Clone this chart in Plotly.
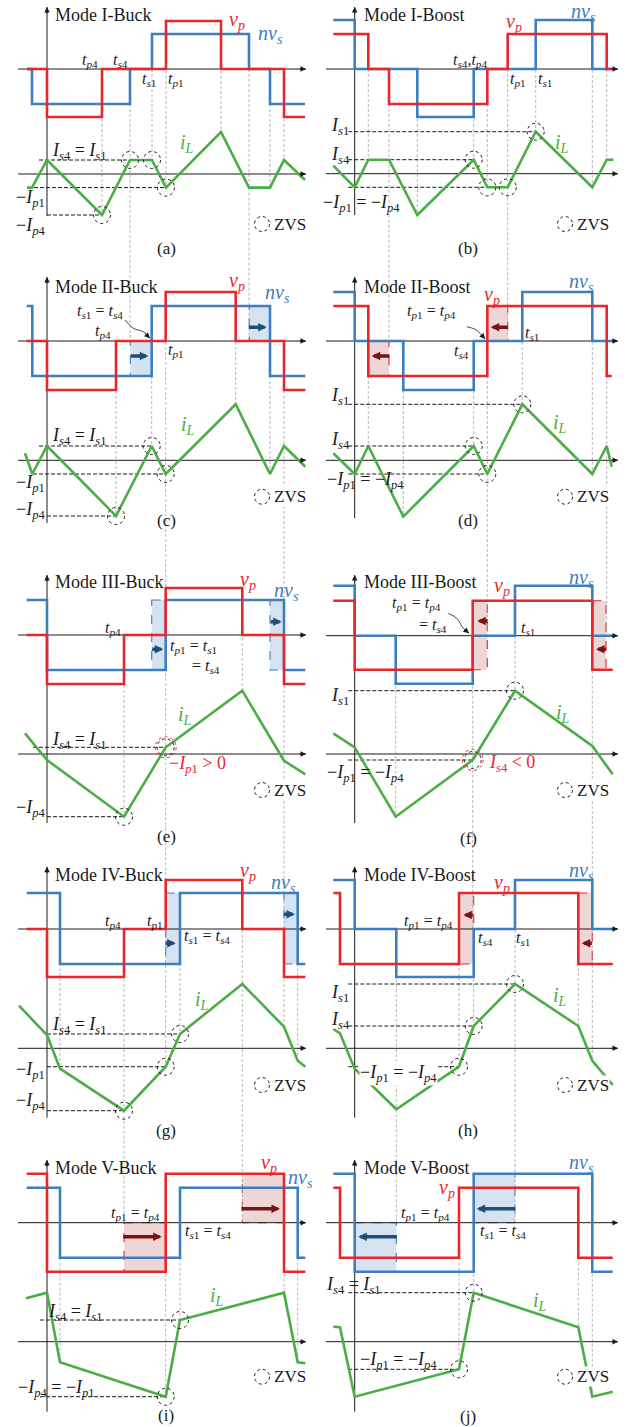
import plotly.graph_objects as go

W, H = 631, 1427
RED = "#E8262B"
BLUE = "#3C7EC0"
GREEN = "#4BAE45"
DKBLUE = "#1F4E79"
DKRED = "#7A1414"
GUIDE = "#A3A3A3"
INK = "#1A1A1A"
FONT = "Liberation Serif"
TS = 16   # switching-instant labels
CS = 18   # current-level labels
MS = 18   # mode titles
BS = 20   # waveform names
SS = 17   # sub-figure tags

# ---------------- waveform data (time / level in panel units) ----------------
# Mode I-Buck
A_VP_T = [-20, 0, 55, 119, 174, 237, 258]
A_VP = [0, -48, 0, 48, 0, -48]
A_NVS_T = [-20, -15, 83, 105, 202, 223, 258]
A_NVS = [0, -35, 0, 35, 0, -35]
A_IL_T = [-20, -15, 0, 55, 83, 105, 119, 174, 202, 223, 237, 258]
A_IL = [-13.6, -13.6, 14, -41, 14, 14, -13.6, 42, -13.6, -13.6, 14, -6]
A_ZVS = [55, 83, 105, 119]
A_REFS = [(-8, 83, 14), (-19, 119, -13.6), (0, 55, -41)]

# Mode I-Boost
B_VP_T = [-21.4, 13.6, 34.3, 132.6, 153, 252, 257]
B_VP = [35, 0, -35, 0, 35, 0]
B_NVS_T = [-21.4, 0, 62.6, 119, 181, 237.6, 258.6]
B_NVS = [49, 0, -48, 0, 49, 0]
B_IL_T = [-21.4, 0, 13.6, 34.3, 62.6, 119, 132.6, 153, 181, 237.6, 252, 258.6]
B_IL = [8, -13.6, 14, 14, -41.3, 14, -13.6, -13.6, 42, -13.6, 14, 14]
B_ZVS = [119, 132.6, 153, 181]
B_REFS = [(-6.4, 181, 42), (-6.4, 119, 14), (-6.4, 153, -13.6)]

# Mode II-Buck
C_VP_T = [-20.3, 0, 69, 118.7, 188.7, 237, 258.3]
C_VP = [0, -49, 0, 49, 0, -49]
C_NVS_T = [-20.3, -14.7, 104.7, 223, 258.3]
C_NVS = [35, -35, 35, -35]
C_IL_T = [-22, -14.7, 0, 69, 104.7, 118.7, 188.7, 223, 237, 258.3]
C_IL = [7, -13.7, 14.3, -55.7, 14.3, -13.7, 56, -13.7, 14.3, -6.4]
C_ZVS = [69, 104.7, 118.7]
C_REFS = [(-8, 104.7, 14.3), (-14, 118.7, -13.7), (0, 69, -55.7)]
C_SHADE = [(83.3, 104.7, -35, 0), (202.3, 223, 0, 35)]
C_SHIFT = [(82.3, 101.3, -15), (200.3, 219.7, 13.7)]

# Mode II-Boost
D_VP_T = [-21.4, 13.6, 132.6, 252, 257]
D_VP = [35, -35, 35, -35]
D_NVS_T = [-21.4, 0, 48.6, 119, 167.6, 237.6, 258.6]
D_NVS = [49, 0, -49, 0, 49, 0]
D_IL_T = [-21.4, 0, 13.6, 48.6, 119, 132.6, 167.6, 237.6, 252, 257]
D_IL = [7, -13.7, 14.3, -56.3, 14.3, -13.7, 56, -13.7, 14.3, -6.4]
D_ZVS = [119, 132.6, 167.6]
D_REFS = [(-6.4, 167.6, 56), (-6.4, 119, 14.3), (-6.4, 132.6, -13.7)]
D_SHADE = [(13.6, 34.3, -35, 0), (132.6, 153, 0, 35)]
D_SHIFT = [(36.3, 17, -15), (154.6, 136, 13.7)]

# Mode III-Buck
E_VP_T = [-20.3, 0, 77, 118.7, 195.3, 237, 258.3]
E_VP = [0, -49, 0, 47, 0, -49]
E_NVS_T = [-20.3, 0, 118.7, 237, 258.3]
E_NVS = [35, -35, 35, -35]
E_IL_T = [-22, 0, 77, 118.7, 195.3, 237, 258.3]
E_IL = [20.7, -6, -62.7, 6.7, 63.3, -6.7, -20.3]
E_ZVS = [77, 118.7]
E_RED = [118.7]
E_REFS = [(-14, 118.7, 6.7), (0, 77, -62.7)]
E_SHADE = [(104.7, 118.7, -35, 35), (223, 237, -35, 35)]
E_SHIFT = [(103.7, 116.3, -14.3), (222.3, 234.7, 13.3)]

# Mode III-Boost
F_VP_T = [-21.4, 0, 118, 237.6, 258]
F_VP = [35, -34, 35, -34]
F_NVS_T = [-21.4, 0, 41, 118, 160.3, 237.6, 258]
F_NVS = [50, 0, -48, 0, 50, 0]
F_IL_T = [-21.4, 0, 41, 118, 160.3, 237.6, 258]
F_IL = [20.7, 6.7, -62.7, -6, 63.3, 8, -20.3]
F_ZVS = [118, 160.3]
F_RED = [118]
F_REFS = [(-6.4, 160.3, 63.3), (-6.4, 118, -6)]
F_SHADE = [(118, 132.6, -34, 35), (237.6, 251.3, -34, 35)]
F_SHIFT = [(134.3, 122.6, 14.7), (253, 241.3, -13.6)]

# Mode IV-Buck
G_VP_T = [-20.3, 0, 77, 118.7, 195.3, 237, 258.3]
G_VP = [0, -48, 0, 49, 0, -48]
G_NVS_T = [-20.3, 13, 133, 250.7, 258.3]
G_NVS = [36, -35, 36, -35]
G_IL_T = [-28, 0, 13, 77, 118.7, 133, 195.3, 237, 250.7, 258.3]
G_IL = [42.6, 13.3, -20.4, -62.4, -18.4, 14.3, 64.3, 21.6, -12.4, -18.4]
G_ZVS = [77, 118.7, 133]
G_REFS = [(0, 133, 14.3), (0, 118.7, -18.4), (0, 77, -62.4)]
G_SHADE = [(118.7, 133, -35, 36), (237, 250.7, -35, 36)]
G_SHIFT = [(117, 128.7, -14.3), (235.3, 248, 14.7)]

# Mode IV-Boost
H_VP_T = [-21.4, -14.7, 104.3, 223.6, 258]
H_VP = [36, -35, 36, -35]
H_NVS_T = [-21.4, 0, 41.6, 119, 160.3, 237.6, 258]
H_NVS = [49, 0, -48, 0, 49, 0]
H_IL_T = [-21.4, -14.7, 0, 41.6, 104.3, 119, 160.3, 223.6, 237.6, 258]
H_IL = [19.3, 15, -20.4, -61, -18.4, 22.3, 64.3, 22.3, -12.4, -36.7]
H_ZVS = [104.3, 119, 160.3]
H_REFS = [(-6.4, 160.3, 64.3), (-6.4, 119, 22.3), (-6.4, 104.3, -18.4)]
H_SHADE = [(104.3, 119, -35, 36), (223.6, 237.6, -35, 36)]
H_SHIFT = [(119.6, 108.6, 14), (238.6, 227, -14.3)]

# Mode V-Buck
I_VP_T = [-20.3, 0, 118.7, 237, 258.3]
I_VP = [49, -49, 49, -49]
I_NVS_T = [-20.3, 13, 133, 250.7, 258.3]
I_NVS = [35, -35, 35, -35]
I_IL_T = [-21, 0, 13, 118.7, 133, 237, 250.7, 258.3]
I_IL = [43.4, 49, -20.6, -55, 21.7, 49, -20.6, -21.6]
I_ZVS = [118.7, 133]
I_REFS = [(-7, 133, 21.7), (-7, 118.7, -55)]
I_SHADE = [(77, 118.7, -49, 0), (195.3, 237, 0, 49)]
I_SHIFT = [(74.7, 114.7, -14), (193, 233, 14)]

# Mode V-Boost
J_VP_T = [-21.4, -14.7, 104.3, 223.6, 258]
J_VP = [35, -35, 35, -35]
J_NVS_T = [-21.4, 0, 119, 237.6, 258]
J_NVS = [49, -49, 49, -49]
J_IL_T = [-21.4, -14.7, 0, 104.3, 119, 223.6, 237.6, 258]
J_IL = [15, 14.4, -55, -27.6, 49, 14.4, -55, -50]
J_ZVS = [104.3, 119]
J_REFS = [(-6.4, 119, 49), (-6.4, 104.3, -27.6)]
J_SHADE = [(0, 41.6, -49, 0), (119, 160.3, 0, 49)]
J_SHIFT = [(43.6, 3.6, -14), (162, 122, 14)]


# ---------------- text helpers ----------------
def sym(base, letter, num=""):
    return f"<i>{base}</i><sub><i>{letter}</i>{num}</sub>"


VP = sym("v", "p")
NVS = "<i>nv</i><sub><i>s</i></sub>"
IL = sym("i", "L")
TP1, TP4, TS1, TS4 = sym("t", "p", "1"), sym("t", "p", "4"), sym("t", "s", "1"), sym("t", "s", "4")
IP1, IP4, IS1, IS4 = sym("I", "p", "1"), sym("I", "p", "4"), sym("I", "s", "1"), sym("I", "s", "4")

# ---------------- panel layout ----------------
# x0: vertical axis x, yv: voltage axis y, yi: current axis y, top/bot: vertical axis extent
PANELS = {
    "a": dict(x0=47, yv=69, yi=174, top=7, bot=216, col="L",
              vp=(A_VP_T, A_VP), nvs=(A_NVS_T, A_NVS), il=(A_IL_T, A_IL),
              zvs=A_ZVS, red=[], refs=A_REFS, shade=[], shift=[], fill=None),
    "b": dict(x0=354.7, yv=69, yi=173.7, top=7, bot=215, col="R",
              vp=(B_VP_T, B_VP), nvs=(B_NVS_T, B_NVS), il=(B_IL_T, B_IL),
              zvs=B_ZVS, red=[], refs=B_REFS, shade=[], shift=[], fill=None),
    "c": dict(x0=47, yv=341, yi=460.3, top=277, bot=523, col="L",
              vp=(C_VP_T, C_VP), nvs=(C_NVS_T, C_NVS), il=(C_IL_T, C_IL),
              zvs=C_ZVS, red=[], refs=C_REFS, shade=C_SHADE, shift=C_SHIFT, fill="blue"),
    "d": dict(x0=354.7, yv=341, yi=460.3, top=277, bot=518, col="R",
              vp=(D_VP_T, D_VP), nvs=(D_NVS_T, D_NVS), il=(D_IL_T, D_IL),
              zvs=D_ZVS, red=[], refs=D_REFS, shade=D_SHADE, shift=D_SHIFT, fill="red"),
    "e": dict(x0=47, yv=635, yi=754, top=575, bot=823, col="L",
              vp=(E_VP_T, E_VP), nvs=(E_NVS_T, E_NVS), il=(E_IL_T, E_IL),
              zvs=E_ZVS, red=E_RED, refs=E_REFS, shade=E_SHADE, shift=E_SHIFT, fill="blue"),
    "f": dict(x0=354.7, yv=635.7, yi=754, top=575, bot=823, col="R",
              vp=(F_VP_T, F_VP), nvs=(F_NVS_T, F_NVS), il=(F_IL_T, F_IL),
              zvs=F_ZVS, red=F_RED, refs=F_REFS, shade=F_SHADE, shift=F_SHIFT, fill="red"),
    "g": dict(x0=47, yv=929, yi=1048.3, top=866.7, bot=1117.7, col="L",
              vp=(G_VP_T, G_VP), nvs=(G_NVS_T, G_NVS), il=(G_IL_T, G_IL),
              zvs=G_ZVS, red=[], refs=G_REFS, shade=G_SHADE, shift=G_SHIFT, fill="blue"),
    "h": dict(x0=354.7, yv=929, yi=1048.3, top=866.7, bot=1117.7, col="R",
              vp=(H_VP_T, H_VP), nvs=(H_NVS_T, H_NVS), il=(H_IL_T, H_IL),
              zvs=H_ZVS, red=[], refs=H_REFS, shade=H_SHADE, shift=H_SHIFT, fill="red"),
    "i": dict(x0=47, yv=1222.7, yi=1341.7, top=1160, bot=1411.7, col="L",
              vp=(I_VP_T, I_VP), nvs=(I_NVS_T, I_NVS), il=(I_IL_T, I_IL),
              zvs=I_ZVS, red=[], refs=I_REFS, shade=I_SHADE, shift=I_SHIFT, fill="red"),
    "j": dict(x0=354.7, yv=1222.7, yi=1341.7, top=1160, bot=1411.7, col="R",
              vp=(J_VP_T, J_VP), nvs=(J_NVS_T, J_NVS), il=(J_IL_T, J_IL),
              zvs=J_ZVS, red=[], refs=J_REFS, shade=J_SHADE, shift=J_SHIFT, fill="blue"),
}
HAXIS = {"L": (18, 306), "R": (326, 618)}

# guide lines running on into the panel below (same column)
LINKS = [("a", "c", [83, 202]), ("c", "e", [118.7, 237]), ("e", "g", [118.7, 237]),
         ("g", "i", [77, 195.3]), ("b", "d", [34.3, 153]), ("d", "f", [132.6, 252]),
         ("f", "h", [118, 237.6]), ("h", "j", [41.6, 160.3])]

# labels: (text, dx, dy, size, color, xanchor, bg) relative to (x0, yv)
K = INK
LABELS = {
    "a": [("Mode I-Buck", 6, -54, MS, K, "left"), (VP, 190, -49, BS, RED), (NVS, 223, -35, BS, BLUE),
          (IL, 140, 74, BS, GREEN), (TP4, 43, -9), (TS4, 73, -9), (TS1, 102, 10), (TP1, 129, 10),
          (f"{IS4} = {IS1}", 32, 82, CS), (f"−{IP1}", -17, 129, CS), (f"−{IP4}", -17, 157, CS),
          ("(a)", 119, 179, SS)],
    "b": [("Mode I-Boost", 7, -54, MS, K, "left"), (VP, 159.3, -47, BS, RED), (NVS, 228.3, -57, BS, BLUE),
          (IL, 207, 74, BS, GREEN), (f"{TS4},{TP4}", 115.3, -9), (TP1, 163.3, 10), (TS1, 190.3, 10),
          (IS1, -14.7, 57, CS), (IS4, -14.7, 86, CS), (f"−{IP1} = −{IP4}", 7, 134, CS),
          ("(b)", 113.3, 179, SS)],
    "c": [("Mode II-Buck", 6, -54.3, MS, K, "left"), (VP, 190, -59.3, BS, RED), (NVS, 230, -47.7, BS, BLUE),
          (IL, 141.3, 84, BS, GREEN), (f"{TS1} = {TS4}", 53, -29.3), (TP4, 56, -9.3), (TP1, 129, 9),
          (f"{IS4} = {IS1}", 32, 95.7, CS), (f"−{IP1}", -17, 142.3, CS), (f"−{IP4}", -17, 169, CS),
          ("(c)", 119, 179, SS)],
    "d": [("Mode II-Boost", 7, -54.3, MS, K, "left"), (VP, 137, -46, BS, RED), (NVS, 227, -58.3, BS, BLUE),
          (IL, 205.3, 82.3, BS, GREEN), (f"{TP1} = {TP4}", 77, -29.3), (TS4, 107, 10.7), (TS1, 177, -7.7),
          (IS1, -14.7, 55.7, CS), (IS4, -14.7, 99, CS), (f"−{IP1} = −{IP4}", 10.3, 139, CS),
          ("(d)", 113.3, 179, SS)],
    "e": [("Mode III-Buck", 6, -53.3, MS, K, "left"), (VP, 201, -55, BS, RED), (NVS, 239.7, -43.3, BS, BLUE),
          (IL, 138, 80, BS, GREEN), (TP4, 66.3, -6.7), (f"{TP1} = {TS1}", 121, 11, TS, K, "left"),
          (f"= {TS4}", 143, 31, TS, K, "left"), (f"{IS4} = {IS1}", 32, 105, CS),
          (f"−{IP1} &gt; 0", 119.7, 129, CS, RED, "left"), (f"−{IP4}", -17, 173.3, CS),
          ("(e)", 119, 201, SS)],
    "f": [("Mode III-Boost", 7, -54, MS, K, "left"), (VP, 147, -49, BS, RED), (NVS, 227, -57.4, BS, BLUE),
          (IL, 208.6, 77.6, BS, GREEN), (f"{TP1} = {TP4}", 62, -32.4), (f"= {TS4}", 78.6, -10.7),
          (TS1, 173.6, -7.4), (IS1, -14.7, 61, CS), (f"−{IP1} = −{IP4}", 10.3, 137.6, CS),
          (f"{IS4} &lt; 0", 157, 127.6, CS, RED), ("(f)", 113.3, 202.3, SS)],
    "g": [("Mode IV-Buck", 6, -54, MS, K, "left"), (VP, 201.3, -57.3, BS, RED), (NVS, 236.3, -45.7, BS, BLUE),
          (IL, 154.7, 71, BS, GREEN), (TP4, 66.3, -7.3), (TP1, 108, -7.3),
          (f"{TS1} = {TS4}", 134.7, 7.7, TS, K, "left"), (f"{IS4} = {IS1}", 32, 96, CS),
          (f"−{IP1}", -17, 141, CS), (f"−{IP4}", -17, 172.7, CS), ("(g)", 119, 201, SS)],
    "h": [("Mode IV-Boost", 7, -54, MS, K, "left"), (VP, 147, -45.7, BS, RED), (NVS, 227, -57.3, BS, BLUE),
          (IL, 205.3, 67.7, BS, GREEN), (f"{TP1} = {TP4}", 73.6, -7.3), (TS4, 131, 9.3), (TS1, 168.6, 9.3),
          (IS1, -14.7, 64.3, CS), (IS4, -14.7, 91, CS),
          (f"−{IP1} = −{IP4}", 43.6, 144.3, CS, K, "center", "white"), ("(h)", 113.3, 201, SS)],
    "i": [("Mode V-Buck", 6, -54.4, MS, K, "left"), (VP, 222.3, -59.4, BS, RED), (NVS, 253, -44.4, BS, BLUE),
          (IL, 169.7, 74, BS, GREEN), (f"{TP1} = {TP4}", 88, -9.4), (f"{TS1} = {TS4}", 161.3, 9),
          (f"{IS4} = {IS1}", 28, 90, CS), (f"−{IP4} = −{IP1}", 9.7, 165.6, CS), ("(i)", 119, 192.3, SS)],
    "j": [("Mode V-Boost", 7, -54.4, MS, K, "left"), (VP, 92, -34.4, BS, RED), (NVS, 227, -59.4, BS, BLUE),
          (IL, 185.3, 79, BS, GREEN), (f"{TP1} = {TP4}", 70.3, -9.4), (f"{TS1} = {TS4}", 148.6, 9),
          (f"{IS4} = {IS1}", -1.4, 62.3, CS), (f"−{IP1} = −{IP4}", 43.6, 137.3, CS), ("(j)", 113.3, 194, SS)],
}
# ZVS legend position (dx, dy) relative to (x0, yv)
ZVS_KEY = {"a": (215, 155), "b": (210.3, 155), "c": (215, 155.7), "d": (210.3, 155.7),
           "e": (215, 155), "f": (210.3, 154.3), "g": (215, 156), "h": (210.3, 156),
           "i": (215, 154), "j": (210.3, 154)}
# small curved pointers (dx, dy) relative to (x0, yv)
CURVES = {"c": [(78, -21), (86.3, -12.7), (96.3, -9.3), (103, -2.7)],
          "d": [(112, -14.3), (120.3, -11.7), (127, -6), (130.3, -2)],
          "f": [(93.6, -22.4), (102, -17.4), (108.6, -7.4), (114.3, -2.4)]}


# ---------------- helpers ----------------
def step_xy(ts, lv, x0, y0):
    xs, ys = [], []
    for k, v in enumerate(lv):
        xs += [x0 + ts[k], x0 + ts[k + 1]]
        ys += [y0 - v, y0 - v]
    return xs, ys


def il_at(ts, vs, t):
    for k in range(len(ts) - 1):
        if ts[k] <= t <= ts[k + 1]:
            if ts[k + 1] == ts[k]:
                return vs[k]
            f = (t - ts[k]) / (ts[k + 1] - ts[k])
            return vs[k] + f * (vs[k + 1] - vs[k])
    return vs[-1]


def edges(ts, lv):
    out = []
    for k in range(1, len(lv)):
        if lv[k] != lv[k - 1] and ts[k] > 0.5:
            out.append((ts[k], max(lv[k], lv[k - 1])))
    return out


fig = go.Figure()
shapes, annos = [], []


def line(xs, ys, color, width, dash="solid", shape="linear"):
    fig.add_trace(go.Scatter(x=xs, y=ys, mode="lines", hoverinfo="skip",
                             line=dict(color=color, width=width, dash=dash, shape=shape)))


def arrow(x, y, ax, ay, color, width, size, head=2):
    annos.append(dict(x=x, y=y, ax=ax, ay=ay, xref="x", yref="y", axref="x", ayref="y",
                      text="", showarrow=True, arrowhead=head, arrowsize=size,
                      arrowwidth=width, arrowcolor=color, standoff=0, startstandoff=0))


def text(x, y, s, size=TS, color=INK, anchor="center", bg=None):
    d = dict(x=x, y=y, xref="x", yref="y", text=s, showarrow=False, xanchor=anchor,
             yanchor="middle", font=dict(family=FONT, size=size, color=color))
    if bg:
        d.update(bgcolor=bg, borderpad=0)
    annos.append(d)


def circle(cx, cy, r, color):
    shapes.append(dict(type="circle", xref="x", yref="y", x0=cx - r, x1=cx + r,
                       y0=cy - r, y1=cy + r, line=dict(color=color, width=1, dash="dot"),
                       layer="above"))


# cross-panel guides
gx, gy = [], []
for up, lo, times in LINKS:
    P, Q = PANELS[up], PANELS[lo]
    for t in times:
        gx += [P["x0"] + t, P["x0"] + t, None]
        gy += [P["yi"] - il_at(*P["il"], t), Q["yv"], None]

for key, P in PANELS.items():
    x0, yv, yi = P["x0"], P["yv"], P["yi"]
    ilt, ilv = P["il"]

    # shaded phase-shift windows
    for (t0, t1, v0, v1) in P["shade"]:
        fc = "rgba(120,165,215,0.32)" if P["fill"] == "blue" else "rgba(200,120,120,0.30)"
        lc = BLUE if P["fill"] == "blue" else RED
        shapes.append(dict(type="rect", xref="x", yref="y", x0=x0 + t0, x1=x0 + t1,
                           y0=yv - v1, y1=yv - v0, fillcolor=fc,
                           line=dict(color=lc, width=1.1, dash="dash"), layer="below"))

    # vertical guides at every switching edge
    tops = {}
    for ts, lv in (P["vp"], P["nvs"]):
        for t, top in edges(ts, lv):
            tops[t] = max(top, tops.get(t, -999))
    for t, top in tops.items():
        gx += [x0 + t, x0 + t, None]
        gy += [yv - top, yi - il_at(ilt, ilv, t), None]

line(gx, gy, GUIDE, 0.8, dash="3px,2px")

for key, P in PANELS.items():
    x0, yv, yi = P["x0"], P["yv"], P["yi"]
    ilt, ilv = P["il"]
    xl, xr = HAXIS[P["col"]]

    # axes
    line([x0, x0], [P["bot"], P["top"]], INK, 1)
    line([xl, xr], [yv, yv], INK, 1)
    line([xl, xr], [yi, yi], INK, 1)
    arrow(x0, P["top"], x0, P["top"] + 8, INK, 1, 1.1)
    arrow(xr, yv, xr - 8, yv, INK, 1, 1.1)
    arrow(xr, yi, xr - 8, yi, INK, 1, 1.1)

    # reference current levels
    rx, ry = [], []
    for (t0, t1, lev) in P["refs"]:
        rx += [x0 + t0, x0 + t1, None]
        ry += [yi - lev, yi - lev, None]
    line(rx, ry, INK, 1, dash="4px,2px")

    # waveforms
    xs, ys = step_xy(*P["nvs"], x0, yv)
    line(xs, ys, BLUE, 2.6)
    xs, ys = step_xy(*P["vp"], x0, yv)
    line(xs, ys, RED, 2.6)
    line([x0 + t for t in ilt], [yi - v for v in ilv], GREEN, 2.6)

    # phase-shift arrows
    dark = DKBLUE if P["fill"] == "blue" else DKRED
    for (ta, tb, v) in P["shift"]:
        arrow(x0 + tb, yv - v, x0 + ta, yv - v, dark, 3.4, 0.5)

    # ZVS marks
    for t in P["zvs"]:
        circle(x0 + t, yi - il_at(ilt, ilv, t), 8.5, INK)
    for t in P["red"]:
        circle(x0 + t, yi - il_at(ilt, ilv, t), 10.5, RED)

    # legend
    zx, zy = ZVS_KEY[key]
    circle(x0 + zx, yv + zy, 7.5, INK)
    text(x0 + zx + 11, yv + zy, "ZVS", 17, INK, "left", "white")

    # curved pointer
    if key in CURVES:
        pts = CURVES[key]
        line([x0 + p[0] for p in pts], [yv + p[1] for p in pts], INK, 0.8, shape="spline")
        (ax_, ay_), (bx_, by_) = pts[-2], pts[-1]
        arrow(x0 + bx_, yv + by_, x0 + ax_, yv + ay_, INK, 0.8, 1.4)

    # labels
    for lab in LABELS[key]:
        s, dx, dy = lab[0], lab[1], lab[2]
        size = lab[3] if len(lab) > 3 else TS
        color = lab[4] if len(lab) > 4 else INK
        anchor = lab[5] if len(lab) > 5 else "center"
        bg = lab[6] if len(lab) > 6 else None
        text(x0 + dx, yv + dy, s, size, color, anchor, bg)

fig.update_layout(
    width=W, height=H, margin=dict(l=0, r=0, t=0, b=0),
    paper_bgcolor="white", plot_bgcolor="white", showlegend=False,
    xaxis=dict(range=[0, W], visible=False, fixedrange=True),
    yaxis=dict(range=[H, 0], visible=False, fixedrange=True),
    shapes=shapes, annotations=annos,
)
fig.write_html("out.html")
